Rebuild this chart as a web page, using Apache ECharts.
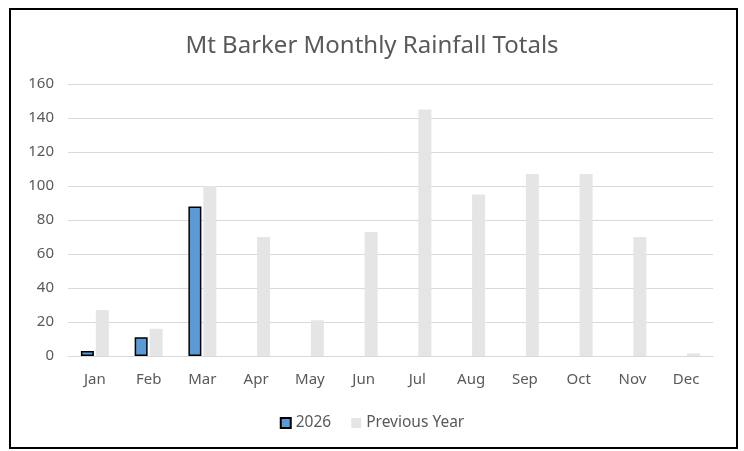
<!DOCTYPE html>
<html>
<head>
<meta charset="utf-8">
<script src="https://cdn.jsdelivr.net/npm/echarts@6/dist/echarts.min.js"></script>
<style>
  html, body { margin: 0; padding: 0; background: #fff; }
  #chart { width: 744px; height: 451px; }
</style>
</head>
<body>
<div id="chart"></div>
<script>
// rainfall data (mm)
const months = ['Jan', 'Feb', 'Mar', 'Apr', 'May', 'Jun', 'Jul', 'Aug', 'Sep', 'Oct', 'Nov', 'Dec']
const rain2026 = [3, 11, 88, null, null, null, null, null, null, null, null, null]
const rainPrev = [27, 16, 100, 70, 21, 73, 145, 95, 107, 107, 70, 1.5]
const yTicks = { min: 0, max: 160, step: 20 }

const textColor = '#595959'
const fontFamily = '"Noto Sans", "DejaVu Sans", sans-serif'

const chart = echarts.init(document.getElementById('chart'))
chart.setOption({
  animation: false,
  backgroundColor: '#fff',
  textStyle: { fontFamily: fontFamily },
  title: {
    text: 'Mt Barker Monthly Rainfall Totals',
    left: 'center',
    top: 29,
    textStyle: { color: textColor, fontSize: 24, fontWeight: 'normal', fontFamily: fontFamily }
  },
  legend: {
    data: ['2026', 'Previous Year'],
    left: 'center',
    top: 410,
    icon: 'rect',
    itemWidth: 10,
    itemHeight: 10,
    itemGap: 20,
    textStyle: { color: textColor, fontSize: 15.5, fontFamily: fontFamily }
  },
  grid: { left: 68, right: 31, top: 84, bottom: 95 },
  xAxis: {
    type: 'category',
    data: months,
    axisLine: { lineStyle: { color: '#d9d9d9', width: 1 } },
    axisTick: { show: false },
    axisLabel: { color: textColor, fontSize: 15, margin: 16 }
  },
  yAxis: {
    type: 'value',
    min: yTicks.min,
    max: yTicks.max,
    interval: yTicks.step,
    axisLine: { show: false },
    axisTick: { show: false },
    axisLabel: { color: textColor, fontSize: 15, margin: 14 },
    splitLine: { lineStyle: { color: '#d9d9d9', width: 1 } }
  },
  series: [
    {
      name: '2026',
      type: 'bar',
      data: rain2026,
      barWidth: 13,
      barGap: '15%',
      itemStyle: { color: '#5b9bd5', borderColor: '#000', borderWidth: 1.5 }
    },
    {
      name: 'Previous Year',
      type: 'bar',
      data: rainPrev,
      barWidth: 13,
      itemStyle: { color: '#e5e5e5' }
    }
  ],
  graphic: [{
    type: 'rect',
    shape: { x: 10, y: 9, width: 727, height: 439 },
    style: { fill: 'none', stroke: '#000', lineWidth: 2 },
    silent: true
  }]
})
</script>
</body>
</html>
